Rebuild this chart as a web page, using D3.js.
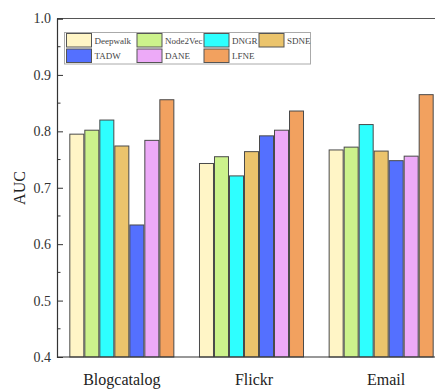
<!DOCTYPE html>
<html><head><meta charset="utf-8">
<script src="https://cdn.jsdelivr.net/npm/d3@7"></script>
<style>
html,body{margin:0;padding:0;background:#fff;}
svg{display:block;}
svg text{font-family:"Liberation Serif","DejaVu Serif",serif !important;}
</style></head>
<body>
<svg id="chart" width="435" height="390"></svg>
<script>
const categories = ["Blogcatalog", "Flickr", "Email"];
const methods = ["Deepwalk", "Node2Vec", "DNGR", "SDNE", "TADW", "DANE", "LFNE"];
const colors = ["#FFF5C6", "#CCF28C", "#2EFFFF", "#EBC46C", "#5470FF", "#EDAAF8", "#F2A15F"];
const deepwalk = [0.795, 0.743, 0.767];
const node2vec = [0.802, 0.755, 0.772];
const dngr     = [0.820, 0.721, 0.812];
const sdne     = [0.774, 0.764, 0.765];
const tadw     = [0.634, 0.792, 0.748];
const dane     = [0.784, 0.802, 0.756];
const lfne     = [0.856, 0.836, 0.865];
const yTicks = [0.4, 0.5, 0.6, 0.7, 0.8, 0.9, 1.0];
const yMinorTicks = [0.45, 0.55, 0.65, 0.75, 0.85, 0.95];

const series = [deepwalk, node2vec, dngr, sdne, tadw, dane, lfne];

(function(){
const svg = d3.select("#chart");
const pLeft = 57, pTop = 18.5, pBottom = 357, pRight = 435;

const y = d3.scaleLinear().domain([0.4, 1.0]).range([pBottom, pTop]);
const x0 = d3.scaleBand().domain(categories).range([57, 446]).paddingInner(0.19).paddingOuter(0.095);
const x1 = d3.scaleBand().domain(methods).range([0, x0.bandwidth()]);

// bars
const groups = svg.append("g").selectAll("g").data(categories).join("g")
  .attr("transform", d => `translate(${x0(d)},0)`);
groups.selectAll("rect")
  .data((c, ci) => methods.map((m, mi) => ({m, mi, v: series[mi][ci]})))
  .join("rect")
  .attr("x", d => x1(d.m) + 0.5)
  .attr("y", d => y(d.v))
  .attr("width", x1.bandwidth() - 1)
  .attr("height", d => pBottom - y(d.v))
  .attr("fill", d => colors[d.mi])
  .attr("stroke", "#4a4a4a")
  .attr("stroke-width", 1);

// frame line top
svg.append("line").attr("x1", pLeft).attr("x2", pRight).attr("y1", pTop).attr("y2", pTop)
  .attr("stroke", "#555").attr("stroke-width", 1.2);

// y axis
const yAxis = d3.axisRight(y).tickValues(yTicks).tickFormat(d3.format(".1f")).tickSize(6);
const ga = svg.append("g").attr("transform", `translate(${pLeft},0)`).call(yAxis);
ga.attr("font-family", null);
ga.select(".domain").attr("stroke", "#333").attr("stroke-width", 1.2);
ga.selectAll(".tick line").attr("stroke", "#333");
ga.selectAll(".tick text").attr("x", -6).attr("text-anchor", "end")
  .attr("font-size", 14).attr("fill", "#333");
svg.append("g").selectAll("line").data(yMinorTicks).join("line")
  .attr("x1", pLeft).attr("x2", pLeft + 3.5)
  .attr("y1", d => y(d)).attr("y2", d => y(d)).attr("stroke", "#333");

// x axis bottom line
svg.append("line").attr("x1", pLeft).attr("x2", pRight).attr("y1", pBottom).attr("y2", pBottom)
  .attr("stroke", "#333").attr("stroke-width", 1.2);

// category labels
const labelShift = [0, 2.5, 5];
svg.append("g").selectAll("text").data(categories).join("text")
  .attr("x", (d, i) => x0(d) + x0.bandwidth() / 2 + labelShift[i])
  .attr("y", 385)
  .attr("text-anchor", "middle")
  .attr("font-size", 16).attr("fill", "#222")
  .text(d => d);

// y label
svg.append("text").attr("transform", "translate(25,188) rotate(-90)")
  .attr("text-anchor", "middle").attr("font-size", 16).attr("fill", "#222").text("AUC");

// legend
const legendCols = [66.5, 137, 204, 259];
const lg = svg.append("g");
lg.append("rect").attr("x", 64.5).attr("y", 32.5).attr("width", 246).attr("height", 31.5)
  .attr("fill", "#fff").attr("stroke", "#aaa").attr("stroke-width", 1);
methods.forEach((m, i) => {
  const col = i % 4, row = Math.floor(i / 4);
  const lx = legendCols[col], ly = 33.5 + row * 15.5;
  lg.append("rect").attr("x", lx).attr("y", ly).attr("width", 25).attr("height", 13.5)
    .attr("fill", colors[i]).attr("stroke", "#555").attr("stroke-width", 1);
  lg.append("text").attr("x", lx + 28).attr("y", ly + 10)
    .attr("font-size", 9).attr("fill", "#444").text(m);
});
})();
</script>
</body></html>
